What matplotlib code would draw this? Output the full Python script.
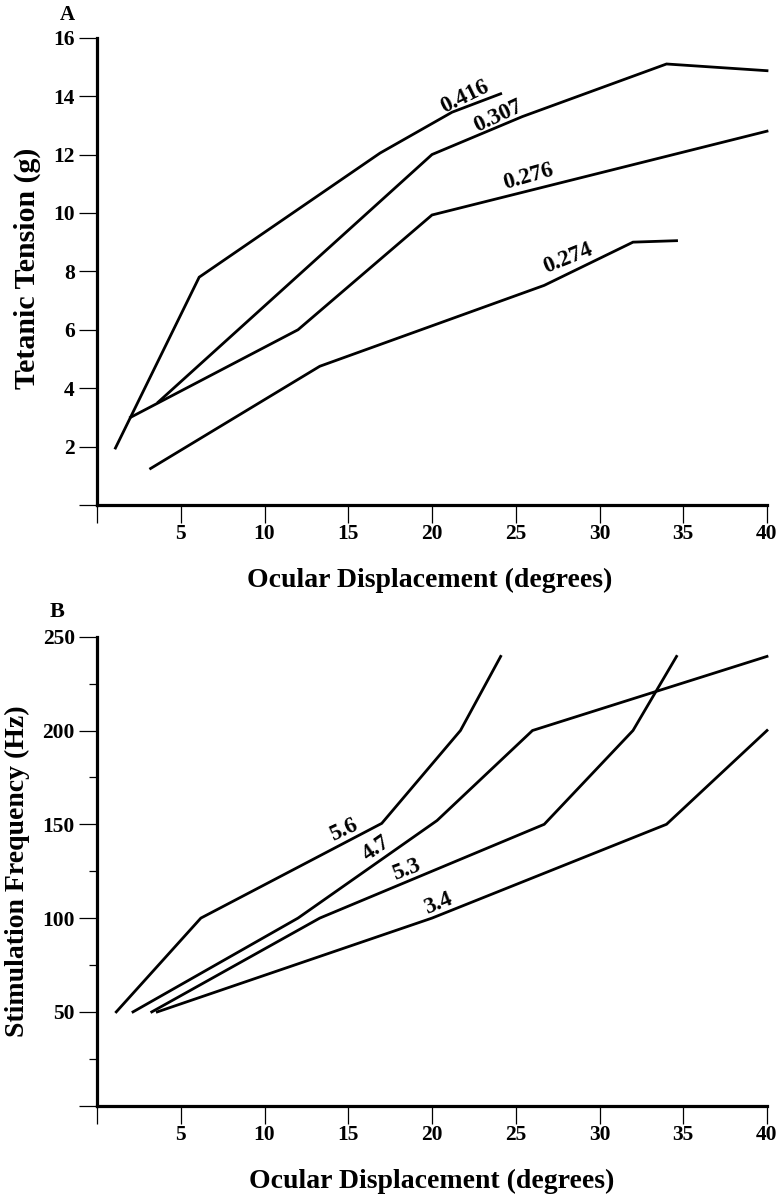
import matplotlib
matplotlib.use("Agg")
import matplotlib.pyplot as plt
from matplotlib.ticker import FixedLocator

plt.rcParams['font.family'] = ['Liberation Serif', 'DejaVu Serif']
plt.rcParams['font.weight'] = 'bold'

# ---- Panel A data: tetanic tension vs ocular displacement ----
a_names = ["0.416", "0.307", "0.276", "0.274"]
a_x = [
    [1.1, 6.1, 16.9, 21.2, 24.1],
    [3.65, 20.0, 25.4, 34.0, 40.0],
    [2.0, 12.0, 20.0, 40.0],
    [3.2, 13.3, 26.7, 32.0, 34.6],
]
a_y = [
    [1.95, 7.8, 12.05, 13.45, 14.08],
    [3.52, 12.0, 13.3, 15.1, 14.87],
    [3.0, 6.0, 9.93, 12.8],
    [1.25, 4.75, 7.52, 9.0, 9.05],
]
a_label_xy = [(21.97, 13.98), (23.96, 13.3), (25.75, 11.24), (28.1, 8.45)]
a_label_rot = [26, 25, 16, 22]

# ---- Panel B data: stimulation frequency vs ocular displacement ----
b_names = ["5.6", "4.7", "5.3", "3.4"]
b_x = [
    [1.15, 6.2, 17.0, 21.7, 24.1],
    [2.15, 12.0, 20.3, 26.0, 40.0],
    [3.27, 13.3, 26.7, 32.0, 34.6],
    [3.6, 20.0, 34.0, 40.0],
]
b_y = [
    [50, 100, 150.5, 200, 239.5],
    [50, 100, 152, 200, 239.5],
    [50, 100, 150, 200, 239.5],
    [50, 100, 150, 200],
]
b_label_xy = [(14.7, 147), (16.7, 137.2), (18.5, 125.6), (20.4, 107.9)]
b_label_rot = [25, 35, 21, 22]

x_ticks = [0, 5, 10, 15, 20, 25, 30, 35, 40]
x_ticklabels = ["", "5", "10", "15", "20", "25", "30", "35", "40"]
a_yticks = [0, 2, 4, 6, 8, 10, 12, 14, 16]
a_yticklabels = ["", "2", "4", "6", "8", "10", "12", "14", "16"]
b_yticks = [0, 50, 100, 150, 200, 250]
b_yticklabels = ["", "50", "100", "150", "200", "250"]
b_yminor = [25, 75, 125, 175, 225]

W, H = 782, 1199
fig = plt.figure(figsize=(W / 100, H / 100), dpi=100)

def ax_rect(l, t, r, b):
    return [l / W, 1 - b / H, (r - l) / W, (b - t) / H]

axA = fig.add_axes(ax_rect(97, 37.7, 767, 505))
axB = fig.add_axes(ax_rect(97, 636.7, 767, 1105.7))

TICK_FS = 15.5
LABEL_FS = 20
CURVE_FS = 16.5

def style(ax, ylim, yticks, yticklabels):
    for s in ['top', 'right']:
        ax.spines[s].set_visible(False)
    for s in ['left', 'bottom']:
        ax.spines[s].set_linewidth(2.3)
        ax.spines[s].set_color('black')
    ax.set_xlim(0, 40)
    ax.set_ylim(*ylim)
    ax.xaxis.set_major_locator(FixedLocator(x_ticks))
    ax.set_xticklabels(x_ticklabels, fontsize=TICK_FS, fontweight='bold')
    ax.yaxis.set_major_locator(FixedLocator(yticks))
    ax.set_yticklabels(yticklabels, fontsize=TICK_FS, fontweight='bold')
    ax.tick_params(axis='both', which='major', direction='out', length=13,
                   width=0.9, color='black')
    ax.tick_params(axis='x', which='major', pad=1)
    ax.tick_params(axis='y', which='major', pad=3)
    ax.set_facecolor('white')

style(axA, (0, 16), a_yticks, a_yticklabels)
style(axB, (0, 250), b_yticks, b_yticklabels)
axB.yaxis.set_minor_locator(FixedLocator(b_yminor))
axB.tick_params(axis='y', which='minor', direction='out', length=5.5, width=0.9)

for xs, ys in zip(a_x, a_y):
    axA.plot(xs, ys, color='black', lw=2.0, solid_joinstyle='miter', clip_on=False)
for name, (lx, ly), rot in zip(a_names, a_label_xy, a_label_rot):
    axA.text(lx, ly, name, fontsize=CURVE_FS, fontweight='bold', rotation=rot,
             ha='center', va='center', rotation_mode='anchor')

for xs, ys in zip(b_x, b_y):
    axB.plot(xs, ys, color='black', lw=2.0, solid_joinstyle='miter', clip_on=False)
for name, (lx, ly), rot in zip(b_names, b_label_xy, b_label_rot):
    axB.text(lx, ly, name, fontsize=CURVE_FS, fontweight='bold', rotation=rot,
             ha='center', va='center', rotation_mode='anchor')

# axis labels and panel letters
fig.text(430 / W, 1 - 580 / H, "Ocular Displacement (degrees)", fontsize=LABEL_FS,
         fontweight='bold', ha='center', va='center')
fig.text(432 / W, 1 - 1181.7 / H, "Ocular Displacement (degrees)", fontsize=LABEL_FS,
         fontweight='bold', ha='center', va='center')
fig.text(27 / W, 1 - 268 / H, "Tetanic Tension (g)", fontsize=21.5,
         fontweight='bold', ha='center', va='center', rotation=90)
fig.text(17 / W, 1 - 871 / H, "Stimulation Frequency (Hz)", fontsize=LABEL_FS,
         fontweight='bold', ha='center', va='center', rotation=90)
fig.text(67 / W, 1 - 15 / H, "A", fontsize=15, fontweight='bold', ha='center', va='center')
fig.text(57 / W, 1 - 612 / H, "B", fontsize=16, fontweight='bold', ha='center', va='center')

fig.savefig("out.png", dpi=100, facecolor='white')
